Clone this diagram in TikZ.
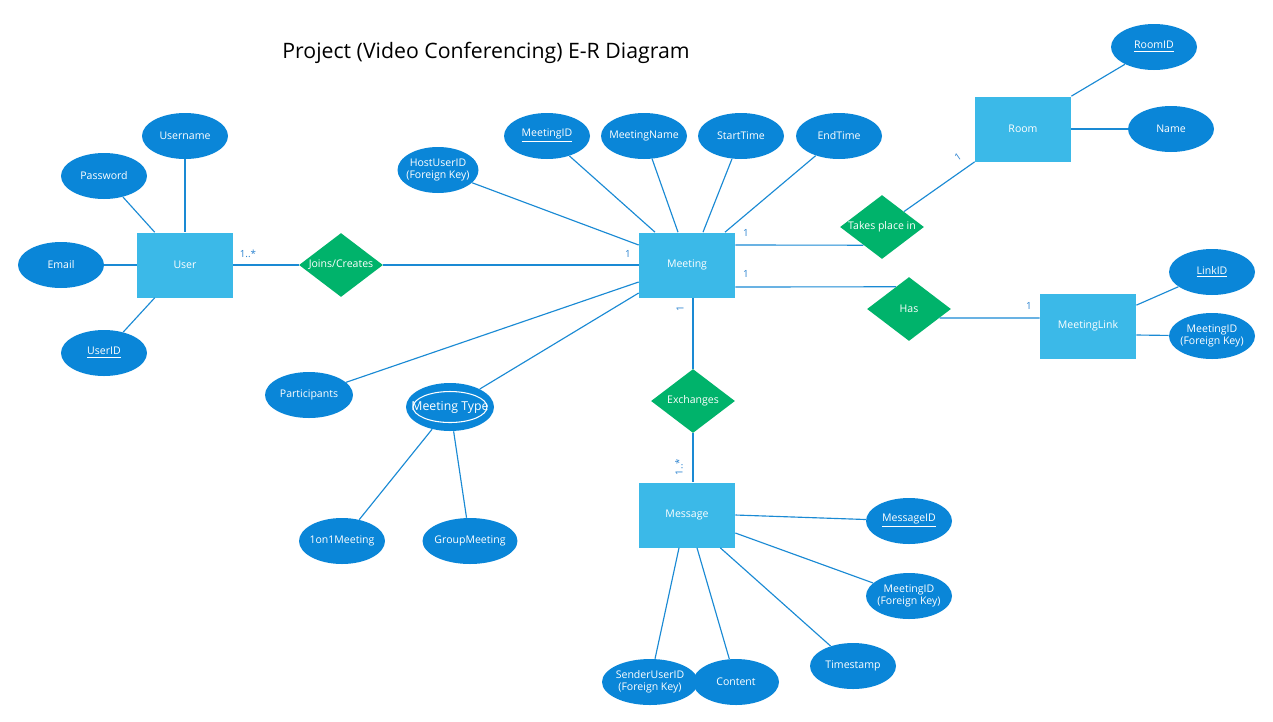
\documentclass[tikz,border=0pt]{standalone}
\usepackage{fontspec}
\setmainfont{Open Sans}
\usetikzlibrary{shapes.geometric,calc}
\definecolor{attrc}{HTML}{0A86D8}
\definecolor{entc}{HTML}{3BB9E8}
\definecolor{relc}{HTML}{00B36B}
\definecolor{linec}{HTML}{1A8AD4}
\definecolor{cardc}{HTML}{2A82D0}
\tikzset{
  attrib/.style={ellipse, fill=attrc, text=white, minimum width=1.72cm, minimum height=0.92cm,
    inner xsep=-3pt, inner ysep=0pt, align=center, font=\fontsize{6}{7}\selectfont},
  entity/.style={rectangle, fill=entc, text=white, minimum width=1.92cm, minimum height=1.3cm,
    inner sep=0pt, font=\fontsize{6}{7}\selectfont},
  rel/.style={diamond, fill=relc, text=white, minimum width=1.68cm, minimum height=1.28cm,
    inner sep=0pt, aspect=1.31, font=\fontsize{6}{7}\selectfont},
  conn/.style={draw=linec, line width=0.65pt},
  card/.style={text=cardc, inner sep=0pt, font=\fontsize{5.6}{6}\selectfont},
}
\begin{document}
\begin{tikzpicture}[x=0.02cm,y=-0.02cm]
\useasboundingbox[fill=white] (0,0) rectangle (1273,721);

\node[inner sep=0pt, font=\fontsize{12.1}{14}\selectfont] (title) at (486,53) {Project (Video Conferencing) E-R Diagram};

% entities
\node[entity] (User) at (185,265) {User};
\node[entity] (Meeting) at (687,265) {Meeting};
\node[entity] (Room) at (1023,129) {Room};
\node[entity] (MeetingLink) at (1088,326) {MeetingLink};
\node[entity] (Message) at (687,515) {Message};

% relationships
\node[rel] (Joins) at (341,265) {Joins/Creates};
\node[rel] (Takes) at (882,227) {Takes place in};
\node[rel] (Has) at (909,309) {Has};
\node[rel] (Exch) at (693,401) {Exchanges};

% attributes
\node[attrib] (Username) at (185,136) {Username};
\node[attrib] (Password) at (104,176) {Password};
\node[attrib] (Email) at (61,265) {Email};
\node[attrib] (UserID) at (104,353) {\underline{UserID}};
\node[attrib, minimum width=1.62cm] (HostUserID) at (438,170) {HostUserID\\(Foreign Key)};
\node[attrib] (MeetingID) at (547,136) {\underline{MeetingID}};
\node[attrib] (MeetingName) at (644,136) {MeetingName};
\node[attrib] (StartTime) at (741,136) {StartTime};
\node[attrib] (EndTime) at (839,136) {EndTime};
\node[attrib] (RoomID) at (1154,47) {\underline{RoomID}};
\node[attrib] (Name) at (1171,129) {Name};
\node[attrib] (LinkID) at (1212,272) {\underline{LinkID}};
\node[attrib] (MLFK) at (1212,336) {MeetingID\\(Foreign Key)};
\node[attrib, minimum width=1.76cm] (Participants) at (309,395) {Participants};
\node[attrib, minimum width=1.76cm, minimum height=0.96cm, inner xsep=-8pt, font=\fontsize{7}{8}\selectfont] (MType) at (450,407) {Meeting Type};
\draw[white, line width=0.6pt] (MType.center) ellipse [x radius=0.74cm, y radius=0.31cm];
\node[attrib] (OneOnOne) at (342,541) {1on1Meeting};
\node[attrib, minimum width=1.9cm] (Group) at (470,541) {GroupMeeting};
\node[attrib] (MessageID) at (909,521) {\underline{MessageID}};
\node[attrib] (MsgFK) at (909,596) {MeetingID\\(Foreign Key)};
\node[attrib] (Timestamp) at (853,666) {Timestamp};
\node[attrib, minimum width=1.92cm] (Sender) at (650,682) {SenderUserID\\(Foreign Key)};
\node[attrib] (Content) at (736,682) {Content};

% user attributes
\draw[conn] (Username) -- (User);
\draw[conn] (Password) -- ($(User.north west)+(18,0)$);
\draw[conn] (Email) -- (User.west);
\draw[conn] (UserID) -- ($(User.south west)+(18,0)$);

% meeting attributes
\draw[conn] (HostUserID) -- ($(Meeting.west)+(0,-20)$);
\draw[conn] (MeetingID) -- ($(Meeting.north)+(-32,0)$);
\draw[conn] (MeetingName) -- ($(Meeting.north)+(-9,0)$);
\draw[conn] (StartTime) -- ($(Meeting.north)+(16,0)$);
\draw[conn] (EndTime) -- ($(Meeting.north)+(38,0)$);
\draw[conn] (Participants) -- ($(Meeting.west)+(0,17)$);
\draw[conn] (MType) -- ($(Meeting.west)+(0,28)$);
\draw[conn] (MType) -- (OneOnOne);
\draw[conn] (MType) -- (Group);

% relationships
\draw[conn] (User.east) -- (Joins.west);
\draw[conn] (Joins.east) -- (Meeting.west);
\draw[conn] ($(Meeting.east)+(0,-20)$) -- ($(Takes.west)!0.5625!(Takes.south)$);
\draw[conn] (Takes) -- (Room.south west);
\draw[conn] ($(Meeting.east)+(0,22)$) -- ($(Has.west)!0.6875!(Has.north)$);
\draw[conn] ($(Has.east)!0.28!(Has.south)$) -- ($(MeetingLink.west)+(0,-8)$);
\draw[conn] ($(Meeting.south)+(6,0)$) -- (Exch.north);
\draw[conn] (Exch.south) -- ($(Message.north)+(6,0)$);

% room / link attributes
\draw[conn] (Room.north east) -- (RoomID);
\draw[conn] (Room.east) -- (Name);
\draw[conn] ($(MeetingLink.north east)+(0,12)$) -- (LinkID);
\draw[conn] ($(MeetingLink.east)+(0,9)$) -- (MLFK);

% message attributes
\draw[conn] (Message.east) -- (MessageID);
\draw[conn] ($(Message.east)+(0,18)$) -- (MsgFK);
\draw[conn] ($(Message.south east)+(-15,0)$) -- (Timestamp);
\draw[conn] ($(Message.south)+(10,0)$) -- (Content);
\draw[conn] ($(Message.south)+(-8,0)$) -- (Sender);

% cardinalities
\node[card] (c1) at (248,254) {1..*};
\node[card] (c2) at (628,254) {1};
\node[card] (c3) at (746,233) {1};
\node[card] (c4) at (746,274) {1};
\node[card] (c5) at (1029,306) {1};
\node[card, rotate=35] (c6) at (958,157) {1};
\node[card, rotate=90] (c7) at (680,309) {1};
\node[card, rotate=90] (c8) at (679,467) {1..*};
\end{tikzpicture}
\end{document}
